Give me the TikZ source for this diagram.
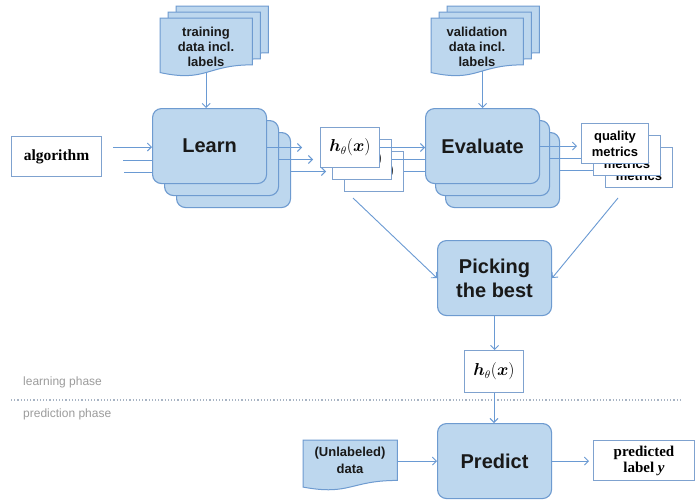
\documentclass[tikz,border=0pt]{standalone}
\usepackage{amsmath}
\usepackage{fontspec}
\setmainfont{Liberation Sans}
\newfontfamily\serifbf{Liberation Serif}
\usetikzlibrary{arrows.meta,calc}
\definecolor{boxfill}{HTML}{BDD7EE}
\definecolor{boxline}{HTML}{6E9BD0}
\definecolor{arrowc}{HTML}{6A9AD3}
\definecolor{wline}{HTML}{7FA2CF}
\definecolor{phasec}{HTML}{9C9C9C}
\definecolor{dotc}{HTML}{A8B4C4}
\tikzset{
 proc/.style={draw=boxline, fill=boxfill, line width=1.1pt, rounded corners=9pt, anchor=north west,
   inner sep=0pt, minimum width=114pt, minimum height=75pt,
   font=\fontsize{20}{24}\selectfont\bfseries, text=black!90, align=center},
 wbox/.style={draw=wline, fill=white, line width=1pt, anchor=north west, inner sep=0pt, align=center},
 hbox/.style={wbox, minimum width=59pt, minimum height=40pt, font=\fontsize{16}{18}\selectfont},
 mbox/.style={wbox, minimum width=67pt, minimum height=40pt, font=\fontsize{13}{16}\selectfont\bfseries},
 docframe/.style={anchor=north west, inner sep=0pt, minimum width=92pt, minimum height=58pt},
 doctext/.style={font=\fontsize{13}{15}\selectfont\bfseries, align=center, text=black!90, inner sep=0pt},
 docdraw/.style={draw=boxline, fill=boxfill, line width=1pt},
 arr/.style={draw=arrowc, line width=0.9pt, -{Straight Barb[length=4pt,width=8pt]}},
 ln/.style={draw=arrowc, line width=0.9pt},
 phase/.style={anchor=west, inner sep=0pt, text=phasec, font=\fontsize{12}{14}\selectfont},
}
\newcommand\docoutline[1]{%
 \path[docdraw] (#1.north west) -- (#1.north east) -- ($(#1.north east)!0.802!(#1.south east)$)
 .. controls ($(#1.north)!0.802!(#1.south)$) and ($(#1.north)!1.107!(#1.south)$) ..
 ($(#1.north west)!0.934!(#1.south west)$) -- cycle;}
\newcommand\hth{$\boldsymbol{h}_{\theta}(\boldsymbol{x})$}
\begin{document}
\begin{tikzpicture}[x=1pt,y=-1pt]
\useasboundingbox (0,0) rectangle (700,501);
\fill[white] (0,0) rectangle (700,501);

% training data
\node[docframe] (tr3) at (176,6) {};
\node[docframe] (tr2) at (168,12) {};
\node[docframe] (tr1) at (160,18) {};
\docoutline{tr3}\docoutline{tr2}\docoutline{tr1}
\node[doctext] (trt) at (206,47) {training\\data incl.\\labels};

% learn stack
\node[proc] (l3) at (176,132) {};
\node[proc] (l2) at (164,120) {};
\node[proc] (l1) at (152,108) {Learn};
\draw[arr] ([yshift=4pt]tr1.south) -- (tr1.south |- l1.north);

% algorithm
\node[wbox, minimum width=90pt, minimum height=40pt, font=\serifbf\fontsize{15.5}{18}\selectfont\bfseries] (alg) at (11,136) {algorithm};
\coordinate (in1) at (113,147);
\coordinate (in2) at (123,160);
\coordinate (in3) at (124,172);
\draw[arr] (in1) -- (in1 -| l1.west);
\draw[ln] (in2) -- (in2 -| l1.west);
\draw[ln] (in3) -- (in3 -| l1.west);

% hypothesis stack
\node[hbox] (h3) at (344,151) {\hth};
\node[hbox] (h2) at (332,139) {\hth};
\node[hbox] (h1) at (320,127) {\hth};
\draw[arr, shorten >=18pt] (h1.west -| l1.east) -- (h1.west);
\draw[arr, shorten >=19pt] (h2.west -| l2.east) -- (h2.west);
\draw[arr, shorten >=18pt] (h3.west -| l3.east) -- (h3.west);

% validation data
\node[docframe] (v3) at (447,6) {};
\node[docframe] (v2) at (439,12) {};
\node[docframe] (v1) at (431,18) {};
\docoutline{v3}\docoutline{v2}\docoutline{v1}
\node[doctext] (vt) at (477,47) {validation\\data incl.\\labels};

% evaluate stack
\node[proc] (e3) at (445,132) {};
\node[proc] (e2) at (435,120) {};
\node[proc] (e1) at (425,108) {Evaluate};
\draw[arr] ([yshift=5pt]v1.south -| e1.north) -- (e1.north);
\draw[arr] (h1.east) -- (h1.east -| e1.west);
\draw[ln] (h2.east) -- (h2.east -| e1.west);
\draw[ln] (h3.east) -- (h3.east -| e1.west);

% metrics stack
\node[mbox] (m3) at (605,147) {quality\\metrics};
\node[mbox] (m2) at (593,135) {quality\\metrics};
\node[mbox] (m1) at (581,123) {quality\\metrics};
\draw[arr, shorten >=4pt] (e1.east) -- (e1.east -| m1.west);
\draw[ln] (e2.east) -- (e2.east -| m1.west);
\draw[ln] (e3.east) -- (e3.east -| m2.west);

% picking
\node[proc] (pick) at (437,240) {Picking\\the best};
\draw[arr] ($(h3.south west)+(9,6)$) -- (pick.west);
\draw[arr] ($(m3.south west)+(13,10)$) -- (pick.east);

% best hypothesis
\node[hbox, minimum height=42pt] (hb) at (464,350) {\hth};
\draw[arr] (pick.south) -- (pick.south |- hb.north);

% phase separator
\coordinate (dl) at (11,400);
\coordinate (dr) at (681,400);
\draw[dotc, line width=1.2pt, dotted] (dl) -- (dr);
\node[phase] (lp) at (23,382) {learning phase};
\node[phase] (pp) at (23,414) {prediction phase};

% predict
\node[proc] (pred) at (437,423) {Predict};
\draw[arr] (hb.south) -- (hb.south |- pred.north);

\node[docframe, minimum width=94pt, minimum height=50pt] (u) at (303,440) {};
\docoutline{u}
\node[doctext, font=\fontsize{13}{17}\selectfont\bfseries] (ut) at (350,460) {(Unlabeled)\\data};
\draw[arr] (pred.west -| u.east) -- (pred.west);

\node[wbox, minimum width=101pt, minimum height=40pt, font=\serifbf\fontsize{15}{16}\selectfont\bfseries] (pl) at (593,440) {predicted\\label \textit{y}};
\draw[arr, shorten >=4pt] (pred.east) -- (pred.east -| pl.west);
\end{tikzpicture}
\end{document}
